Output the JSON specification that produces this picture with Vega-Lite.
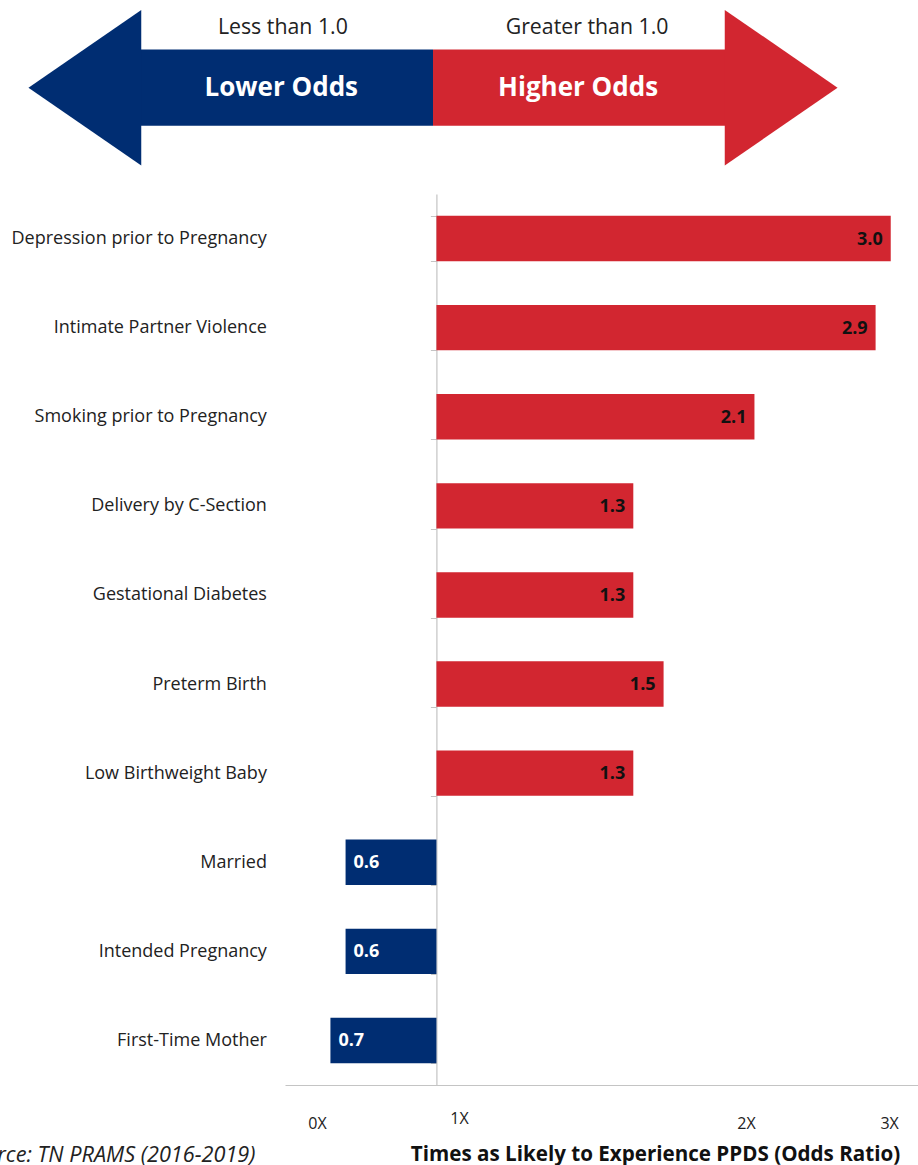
{
  "$schema": "https://vega.github.io/schema/vega-lite/v6.json",
  "width": 633,
  "height": 891,
  "autosize": {"type": "none"},
  "padding": {"left": 285, "top": 194, "right": 0, "bottom": 80},
  "background": "white",
  "config": {"view": {"stroke": null}, "font": "Open Sans"},
  "datasets": {
    "factors": [
      {"factor": "Depression prior to Pregnancy", "odds": 3.0, "side": "Higher Odds"},
      {"factor": "Intimate Partner Violence", "odds": 2.9, "side": "Higher Odds"},
      {"factor": "Smoking prior to Pregnancy", "odds": 2.1, "side": "Higher Odds"},
      {"factor": "Delivery by C-Section", "odds": 1.3, "side": "Higher Odds"},
      {"factor": "Gestational Diabetes", "odds": 1.3, "side": "Higher Odds"},
      {"factor": "Preterm Birth", "odds": 1.5, "side": "Higher Odds"},
      {"factor": "Low Birthweight Baby", "odds": 1.3, "side": "Higher Odds"},
      {"factor": "Married", "odds": 0.6, "side": "Lower Odds"},
      {"factor": "Intended Pregnancy", "odds": 0.6, "side": "Lower Odds"},
      {"factor": "First-Time Mother", "odds": 0.7, "side": "Lower Odds"}
    ],
    "arrowShaft": [
      {"side": "Lower Odds", "from": -7.6, "to": 0, "top": 0.98, "bottom": -0.98},
      {"side": "Higher Odds", "from": 0, "to": 7.6, "top": 0.98, "bottom": -0.98}
    ],
    "arrowHead": [
      {"side": "Lower Odds", "ax": -10.4, "top": 0, "bottom": 0},
      {"side": "Lower Odds", "ax": -7.5, "top": 2, "bottom": -2},
      {"side": "Higher Odds", "ax": 7.5, "top": 2, "bottom": -2},
      {"side": "Higher Odds", "ax": 10.4, "top": 0, "bottom": 0}
    ],
    "arrowText": [
      {"kind": "direction", "text": "Lower Odds", "ax": -3.9},
      {"kind": "direction", "text": "Higher Odds", "ax": 3.73},
      {"kind": "threshold", "text": "Less than 1.0", "ax": -3.86},
      {"kind": "threshold", "text": "Greater than 1.0", "ax": 3.96}
    ]
  },
  "layer": [
    {
      "data": {"name": "arrowShaft"},
      "mark": {"type": "rect"},
      "encoding": {
        "x": {"field": "from", "type": "quantitative", "scale": {"domain": [-3.805, 12.468], "nice": false, "zero": false}, "axis": null},
        "x2": {"field": "to"},
        "y": {"field": "top", "type": "quantitative", "scale": {"domain": [-25.638, -2.733], "nice": false, "zero": false}, "axis": null},
        "y2": {"field": "bottom"},
        "color": {"field": "side", "type": "nominal", "scale": {"domain": ["Lower Odds", "Higher Odds"], "range": ["#002D72", "#D22630"]}, "legend": null}
      }
    },
    {
      "data": {"name": "arrowHead"},
      "mark": {"type": "area", "opacity": 1},
      "encoding": {
        "x": {"field": "ax", "type": "quantitative", "scale": {"domain": [-3.805, 12.468], "nice": false, "zero": false}, "axis": null},
        "y": {"field": "top", "type": "quantitative", "stack": null, "scale": {"domain": [-25.638, -2.733], "nice": false, "zero": false}, "axis": null},
        "y2": {"field": "bottom"},
        "color": {"field": "side", "type": "nominal", "legend": null}
      }
    },
    {
      "data": {"name": "arrowText"},
      "transform": [{"filter": "datum.kind === 'direction'"}],
      "mark": {"type": "text", "align": "center", "baseline": "middle", "fontSize": 26, "fontWeight": "bold", "color": "#ffffff", "font": "Open Sans"},
      "encoding": {
        "x": {"field": "ax", "type": "quantitative", "scale": {"domain": [-3.805, 12.468], "nice": false, "zero": false}, "axis": null},
        "y": {"datum": 0, "type": "quantitative", "scale": {"domain": [-25.638, -2.733], "nice": false, "zero": false}, "axis": null},
        "text": {"field": "text", "type": "nominal"}
      }
    },
    {
      "data": {"name": "arrowText"},
      "transform": [{"filter": "datum.kind === 'threshold'"}],
      "mark": {"type": "text", "align": "center", "baseline": "alphabetic", "dy": -15.5, "fontSize": 21.3, "color": "#222222", "font": "Open Sans"},
      "encoding": {
        "x": {"field": "ax", "type": "quantitative", "scale": {"domain": [-3.805, 12.468], "nice": false, "zero": false}, "axis": null},
        "y": {"datum": 0.98, "type": "quantitative", "scale": {"domain": [-25.638, -2.733], "nice": false, "zero": false}, "axis": null},
        "text": {"field": "text", "type": "nominal"}
      }
    },
    {
      "data": {"name": "factors"},
      "transform": [{"filter": "datum.side === 'Higher Odds'"}],
      "mark": {"type": "bar"},
      "encoding": {
        "y": {
          "field": "factor", "type": "nominal",
          "scale": {"domain": ["Depression prior to Pregnancy", "Intimate Partner Violence", "Smoking prior to Pregnancy", "Delivery by C-Section", "Gestational Diabetes", "Preterm Birth", "Low Birthweight Baby", "Married", "Intended Pregnancy", "First-Time Mother"], "paddingInner": 0.49, "paddingOuter": 0.245},
          "axis": {
            "orient": "left", "offset": -151.4, "title": null, "grid": false,
            "domain": true, "domainColor": "#c4c4c4", "domainWidth": 1.2,
            "ticks": true, "tickBand": "extent", "tickSize": 6, "tickColor": "#c4c4c4",
            "labelPadding": 164, "labelFontSize": 18, "labelColor": "#222222", "labelLimit": 400, "labelFont": "Open Sans"
          }
        },
        "x": {
          "field": "odds", "type": "quantitative",
          "scale": {"domain": [-1, 3.18], "nice": false, "zero": false},
          "axis": {
            "orient": "bottom", "values": [-0.789, 0.149, 2.044, 2.989],
            "labelExpr": "datum.value < 0 ? '0X' : datum.value < 1 ? '1X' : datum.value < 2.5 ? '2X' : '3X'",
            "ticks": false, "tickSize": 0, "grid": false,
            "domain": true, "domainColor": "#c4c4c4", "domainWidth": 1.2,
            "labelFont": "Open Sans", "labelFontSize": 16, "labelColor": "#222222", "labelBaseline": "top",
            "labelPadding": {"condition": {"test": "datum.value > 0 && datum.value < 1", "value": 25}, "value": 30},
            "labelFlush": false, "labelOverlap": false,
            "title": "Times as Likely to Experience PPDS (Odds Ratio)",
            "titleFont": "Open Sans", "titleFontSize": 20.6, "titleFontWeight": "bold", "titleColor": "#111111",
            "titleX": 370, "titleY": 75, "titleAlign": "center", "titleBaseline": "alphabetic"
          }
        },
        "color": {"field": "side", "type": "nominal", "legend": null}
      }
    },
    {
      "data": {"name": "factors"},
      "transform": [{"filter": "datum.side === 'Higher Odds'"}],
      "mark": {"type": "text", "align": "right", "baseline": "middle", "dx": -8, "dy": 1, "fontSize": 18, "fontWeight": "bold", "color": "#111111", "font": "Open Sans"},
      "encoding": {
        "y": {
          "field": "factor", "type": "nominal",
          "scale": {"domain": ["Depression prior to Pregnancy", "Intimate Partner Violence", "Smoking prior to Pregnancy", "Delivery by C-Section", "Gestational Diabetes", "Preterm Birth", "Low Birthweight Baby", "Married", "Intended Pregnancy", "First-Time Mother"], "paddingInner": 0.49, "paddingOuter": 0.245},
          "axis": null
        },
        "x": {"field": "odds", "type": "quantitative", "scale": {"domain": [-1, 3.18], "nice": false, "zero": false}, "axis": null},
        "text": {"field": "odds", "type": "quantitative", "format": ".1f"}
      }
    },
    {
      "data": {"name": "factors"},
      "transform": [{"filter": "datum.side === 'Lower Odds'"}],
      "mark": {"type": "bar"},
      "encoding": {
        "y": {
          "field": "factor", "type": "nominal",
          "scale": {"domain": ["Depression prior to Pregnancy", "Intimate Partner Violence", "Smoking prior to Pregnancy", "Delivery by C-Section", "Gestational Diabetes", "Preterm Birth", "Low Birthweight Baby", "Married", "Intended Pregnancy", "First-Time Mother"], "paddingInner": 0.49, "paddingOuter": 0.245},
          "axis": null
        },
        "x": {
          "field": "odds", "type": "quantitative",
          "scale": {"domain": [-3.18, 1], "reverse": true, "nice": false, "zero": false},
          "axis": {
            "orient": "bottom", "domain": false, "ticks": false, "labels": false, "grid": false,
            "title": "Source: TN PRAMS (2016-2019)",
            "titleFont": "Open Sans", "titleFontSize": 21.7, "titleFontStyle": "italic", "titleFontWeight": "normal", "titleColor": "#222222",
            "titleX": -30, "titleY": 76, "titleAlign": "right", "titleBaseline": "alphabetic"
          }
        },
        "color": {"field": "side", "type": "nominal", "legend": null}
      }
    },
    {
      "data": {"name": "factors"},
      "transform": [{"filter": "datum.side === 'Lower Odds'"}],
      "mark": {"type": "text", "align": "left", "baseline": "middle", "dx": 8, "dy": 1, "fontSize": 18, "fontWeight": "bold", "color": "#ffffff", "font": "Open Sans"},
      "encoding": {
        "y": {
          "field": "factor", "type": "nominal",
          "scale": {"domain": ["Depression prior to Pregnancy", "Intimate Partner Violence", "Smoking prior to Pregnancy", "Delivery by C-Section", "Gestational Diabetes", "Preterm Birth", "Low Birthweight Baby", "Married", "Intended Pregnancy", "First-Time Mother"], "paddingInner": 0.49, "paddingOuter": 0.245},
          "axis": null
        },
        "x": {"field": "odds", "type": "quantitative", "scale": {"domain": [-3.18, 1], "reverse": true, "nice": false, "zero": false}, "axis": null},
        "text": {"field": "odds", "type": "quantitative", "format": ".1f"}
      }
    }
  ],
  "resolve": {"scale": {"x": "independent", "y": "independent"}}
}
